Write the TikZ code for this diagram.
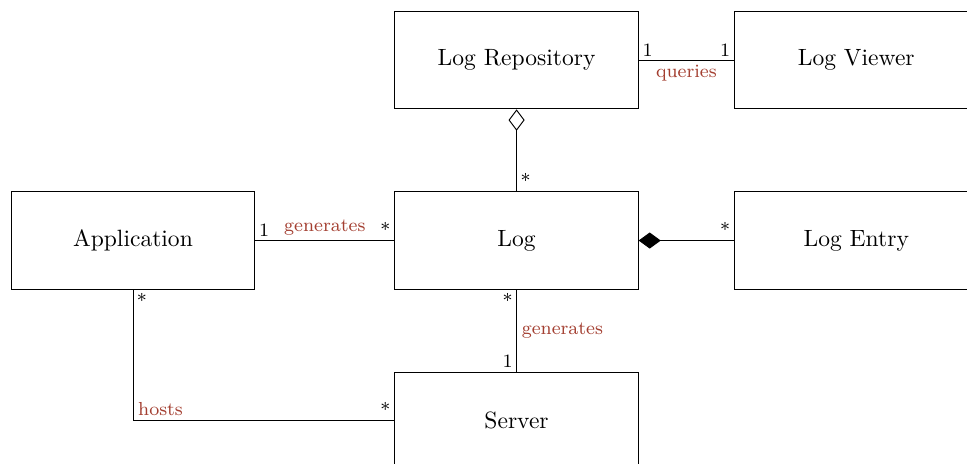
\documentclass[tikz,border=0pt]{standalone}
\usepackage{amsmath,amssymb}
\usepackage{tikz}
\usetikzlibrary{arrows.meta}

\definecolor{assoclabel}{RGB}{163,62,48}

\begin{document}
\begin{tikzpicture}[
    classbox/.style={draw, rectangle, minimum width=3.63cm, minimum height=1.45cm},
    mult/.style={font=\footnotesize, inner sep=1.5pt},
    rolename/.style={font=\footnotesize, text=assoclabel, inner sep=2pt},
    aggr/.style={{Diamond[open, length=0.32cm, width=0.24cm]}-},
    compo/.style={{Diamond[length=0.33cm, width=0.24cm]}-}
  ]
        % Fixed frame of the picture
        \useasboundingbox (0,0) rectangle (14.433,-6.925);

        % Classes
        \node[classbox] (repo)   at (7.71, -0.90)  {Log Repository};
        \node[classbox] (viewer) at (12.78, -0.90) {Log Viewer};
        \node[classbox] (app)    at (1.985, -3.59) {Application};
        \node[classbox] (log)    at (7.71, -3.59)  {Log};
        \node[classbox] (entry)  at (12.78, -3.59) {Log Entry};
        \node[classbox] (server) at (7.71, -6.28)  {Server};

        % Repository -- viewer
        \draw (repo) -- node[rolename, below] {queries} (viewer);
        \node[mult, anchor=south west] at (repo.east) {1};
        \node[mult, anchor=south east] at (viewer.west) {1};

        % Repository holds logs
        \draw[aggr] (repo) -- (log);
        \node[mult, anchor=south west] at (log.north) {*};

        % Application -- log
        \draw (app) -- node[rolename, above] {generates} (log);
        \node[mult, anchor=south west] at (app.east) {1};
        \node[mult, anchor=south east] at (log.west) {*};

        % Log is made of entries
        \draw[compo] (log) -- (entry);
        \node[mult, anchor=south east] at (entry.west) {*};

        % Server -- log
        \draw (log) -- node[rolename, right] {generates} (server);
        \node[mult, anchor=north east] at (log.south) {*};
        \node[mult, anchor=south east] at (server.north) {1};

        % Server hosts applications
        \draw (app.south) |- coordinate (hostcorner) (server.west);
        \node[mult, anchor=north west] at (app.south) {*};
        \node[rolename, anchor=south west] at (hostcorner) {hosts};
        \node[mult, anchor=south east] at (server.west) {*};
      \end{tikzpicture}
\end{document}
